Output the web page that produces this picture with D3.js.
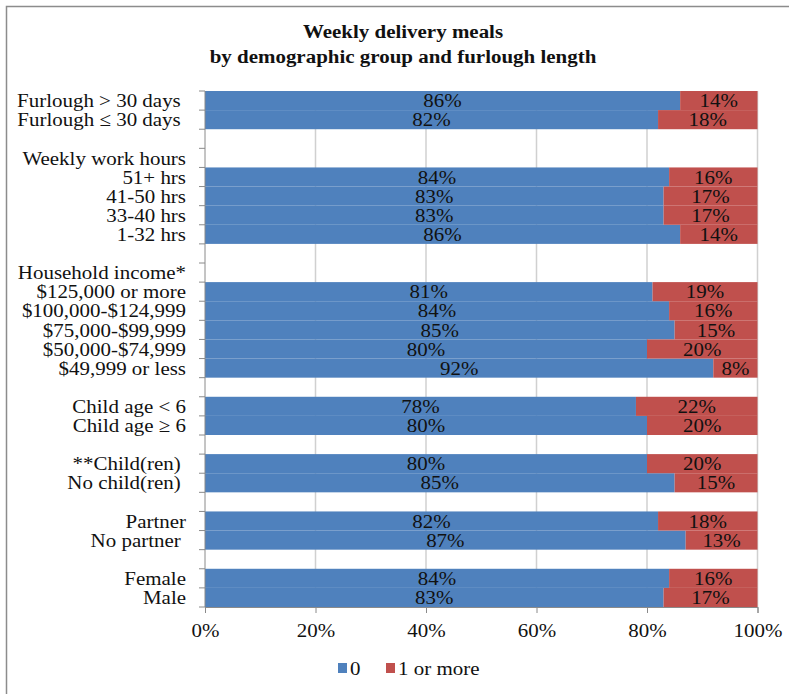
<!DOCTYPE html>
<html>
<head>
<meta charset="utf-8">
<script src="https://cdn.jsdelivr.net/npm/d3@7/dist/d3.min.js"></script>
<style>
  html, body { margin: 0; padding: 0; background: #fff; }
  svg { display: block; }
  text { font-family: "Liberation Serif", "Times New Roman", serif; fill: #111; }
</style>
</head>
<body>
<svg id="chart" width="789" height="694"></svg>
<script>
// Row labels, top to bottom; empty strings are spacer rows between groups.
const categories = [
  "Furlough > 30 days ", "Furlough \u2264 30 days ", "",
  "Weekly work hours", "51+ hrs", "41-50 hrs", "33-40 hrs", "1-32 hrs", "",
  "Household income*", "$125,000 or more", "$100,000-$124,999", "$75,000-$99,999",
  "$50,000-$74,999", "$49,999 or less", "",
  "Child age < 6", "Child age \u2265 6", "",
  "**Child(ren) ", "No child(ren) ", "",
  "Partner", "No partner ", "",
  "Female", "Male"
];

// Share of respondents with 0 weekly delivery meals (%)
const zeroMeals = [
  86, 82, null,
  null, 84, 83, 83, 86, null,
  null, 81, 84, 85, 80, 92, null,
  78, 80, null,
  80, 85, null,
  82, 87, null,
  84, 83
];

// Share with 1 or more weekly delivery meals (%)
const oneOrMore = [
  14, 18, null,
  null, 16, 17, 17, 14, null,
  null, 19, 16, 15, 20, 8, null,
  22, 20, null,
  20, 15, null,
  18, 13, null,
  16, 17
];

const seriesNames = ["0", "1 or more"];
const seriesColors = ["#4F81BD", "#C0504D"];
const xTicks = [0, 20, 40, 60, 80, 100];

// text is drawn slightly wide, like the original chart export
const FONT = 19.5, STRETCH = 1.075;
const placeText = (sel, fx, fy) =>
  sel.attr("x", 0).attr("y", 0)
     .attr("transform", (d, i) => `translate(${fx(d, i)},${fy(d, i)}) scale(${STRETCH},1)`);

const svg = d3.select("#chart");

// chart frame
svg.append("rect")
  .attr("x", 6.5).attr("y", 6.5)
  .attr("width", 800).attr("height", 700)
  .attr("fill", "none").attr("stroke", "#8c8c8c").attr("stroke-width", 1.5);

// title
const titleLines = ["Weekly delivery meals", "by demographic group and furlough length"];
svg.append("g")
  .selectAll("text")
  .data(titleLines)
  .join("text")
  .attr("text-anchor", "middle")
  .style("font-weight", "bold")
  .style("font-size", "19.5px")
  .text(d => d)
  .call(placeText, () => 403, (d, i) => 38 + i * 25);

const plotLeft = 205, plotRight = 757.5, plotTop = 91, plotBottom = 607;

const x = d3.scaleLinear().domain([0, 100]).range([plotLeft, plotRight]);
const y = d3.scaleBand()
  .domain(d3.range(categories.length))
  .range([plotTop, plotBottom])
  .padding(0);

// vertical gridlines
svg.append("g")
  .selectAll("line")
  .data(xTicks.filter(d => d > 0))
  .join("line")
  .attr("x1", d => x(d)).attr("x2", d => x(d))
  .attr("y1", plotTop).attr("y2", plotBottom)
  .attr("stroke", "#d0d0d0").attr("stroke-width", 1.5);

// stacked bars
const rows = categories.map((c, i) => ({ i, a: zeroMeals[i], b: oneOrMore[i] }))
  .filter(r => r.a != null);

const barG = svg.append("g");
barG.selectAll("rect.s0")
  .data(rows)
  .join("rect")
  .attr("class", "s0")
  .attr("x", x(0))
  .attr("y", d => y(d.i))
  .attr("width", d => x(d.a) - x(0))
  .attr("height", y.bandwidth())
  .attr("fill", seriesColors[0]);
barG.selectAll("rect.s1")
  .data(rows)
  .join("rect")
  .attr("class", "s1")
  .attr("x", d => x(d.a))
  .attr("y", d => y(d.i))
  .attr("width", d => x(d.a + d.b) - x(d.a))
  .attr("height", y.bandwidth())
  .attr("fill", seriesColors[1]);

const rowMid = i => y(i) + y.bandwidth() / 2;

// value labels centred in each segment
const labG = svg.append("g").style("font-size", FONT + "px").attr("text-anchor", "middle");
labG.selectAll("text.l0")
  .data(rows)
  .join("text")
  .attr("class", "l0")
  .attr("dy", "0.34em")
  .text(d => d.a + "%")
  .call(placeText, d => x(d.a / 2), d => rowMid(d.i));
labG.selectAll("text.l1")
  .data(rows)
  .join("text")
  .attr("class", "l1")
  .attr("dy", "0.34em")
  .text(d => d.b + "%")
  .call(placeText, d => x(d.a + d.b / 2), d => rowMid(d.i));

// y axis with ticks at row boundaries
const axisColor = "#8a8a8a";
const yAxis = svg.append("g");
yAxis.append("line")
  .attr("x1", plotLeft).attr("x2", plotLeft).attr("y1", plotTop).attr("y2", plotBottom)
  .attr("stroke", axisColor);
yAxis.selectAll("line.tick")
  .data(d3.range(categories.length + 1))
  .join("line")
  .attr("class", "tick")
  .attr("x1", plotLeft - 6).attr("x2", plotLeft)
  .attr("y1", i => plotTop + i * y.step()).attr("y2", i => plotTop + i * y.step())
  .attr("stroke", axisColor);
yAxis.selectAll("text")
  .data(categories)
  .join("text")
  .attr("dy", "0.34em")
  .attr("text-anchor", "end")
  .style("font-size", FONT + "px")
  .style("white-space", "pre")
  .text(d => d)
  .call(placeText, () => plotLeft - 19, (d, i) => rowMid(i));

// x axis
const xAxis = svg.append("g").attr("transform", `translate(0,${plotBottom})`)
  .call(d3.axisBottom(x).tickValues(xTicks).tickFormat(d => d + "%").tickSize(6).tickPadding(10));
xAxis.select(".domain").attr("stroke", axisColor);
xAxis.selectAll(".tick line").attr("stroke", axisColor);
xAxis.selectAll(".tick text")
  .style("font-size", FONT + "px")
  .style("font-family", "'Liberation Serif', 'Times New Roman', serif")
  .attr("fill", "#111")
  .attr("transform", `scale(${STRETCH},1)`)
  .attr("x", 0);

// legend
const legend = svg.append("g").style("font-size", FONT + "px");
const legendX = [338, 386];
legend.selectAll("rect")
  .data(seriesNames)
  .join("rect")
  .attr("x", (d, k) => legendX[k]).attr("y", 663)
  .attr("width", 9).attr("height", 10)
  .attr("fill", (d, k) => seriesColors[k]);
legend.selectAll("text")
  .data(seriesNames)
  .join("text")
  .text(d => d)
  .call(placeText, (d, k) => legendX[k] + 12, () => 675);
</script>
</body>
</html>
